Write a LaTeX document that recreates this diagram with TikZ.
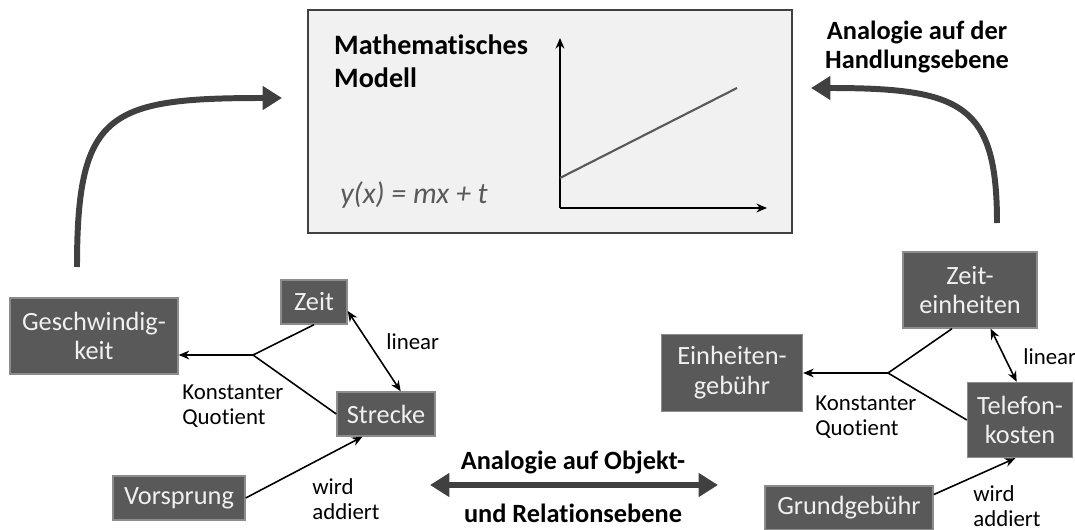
\documentclass[tikz,border=0pt]{standalone}
\usepackage{fontspec}
\setmainfont{Carlito}[Ligatures=NoCommon]
\usepackage{tikz}
\usetikzlibrary{arrows.meta, calc}
\definecolor{boxgray}{HTML}{595959}
\definecolor{boxedge}{HTML}{8C8C8C}
\definecolor{arrowgray}{HTML}{404040}
\definecolor{panelgray}{HTML}{F1F1F1}
\definecolor{formulagray}{HTML}{595959}

\begin{document}
\begin{tikzpicture}[x=0.02cm, y=-0.02cm,
    concept/.style={rectangle, draw=boxedge, line width=0.8pt, fill=boxgray,
                    text=white!94!black, align=center, inner sep=0pt,
                    font=\fontsize{15}{17}\selectfont, minimum height=0.88cm},
    rel/.style={font=\fontsize{13}{14.5}\selectfont, align=left, anchor=west, inner sep=0pt},
    link/.style={line width=0.9pt, -{Stealth[length=6pt, width=5pt]}},
    biglink/.style={line width=3.4pt, color=arrowgray, -{Triangle[length=11pt, width=13pt]}},
    level/.style={font=\fontsize{15}{16.5}\selectfont\bfseries, align=center}
]
    \useasboundingbox (0,0) rectangle (1075,530);

    % Model panel
    \node[draw=arrowgray, fill=panelgray, line width=1.2pt, inner sep=0pt,
          minimum width=9.68cm, minimum height=4.46cm] (modell) at (550,121.5) {};
    \node[anchor=west, align=left, font=\fontsize{16}{18.5}\selectfont\bfseries] (titel) at (328,61) {Mathematisches\\Modell};
    \node[anchor=west, inner sep=0pt, text=formulagray, font=\fontsize{17}{19}\selectfont\itshape] (formel) at (340,195) {y(x) = mx + t};
    \coordinate (origin) at (560,208);
    \draw[line width=1pt, -{Stealth[length=6pt, width=5pt]}] (origin) -- (560,38);
    \draw[line width=1pt, -{Stealth[length=6pt, width=5pt]}] (origin) -- (767,208);
    \draw[line width=1.2pt, formulagray] (560,178) -- (737,88);

    % Movement situation
    \node[concept, minimum width=3.36cm, minimum height=1.52cm] (gesch) at (94,336) {Geschwindig-\\keit};
    \node[concept, minimum width=1.32cm] (zeit) at (314,302) {Zeit};
    \node[concept, minimum width=1.96cm] (strecke) at (386,414) {Strecke};
    \node[concept, minimum width=2.64cm] (vorsprung) at (179,498) {Vorsprung};

    \coordinate (jl) at (253,355);
    \draw[line width=0.9pt] (zeit.south) -- (jl) -- (strecke.west);
    \draw[link] (jl) -- (jl -| gesch.east);
    \draw[link, {Stealth[length=6pt, width=5pt]}-{Stealth[length=6pt, width=5pt]}] (zeit.-15) -- (strecke.57);
    \draw[link] (vorsprung.east) -- (strecke.-136);

    \node[rel] (quotl) at (182,406) {Konstanter\\Quotient};
    \node[rel] (linl) at (386,342) {linear};
    \node[rel] (addl) at (312,499) {wird\\addiert};

    % Phone tariff situation
    \node[concept, minimum width=2.68cm, minimum height=1.52cm] (zeiteinh) at (970,290) {Zeit-\\einheiten};
    \node[concept, minimum width=2.82cm, minimum height=1.54cm] (einhgeb) at (732,373) {Einheiten-\\gebühr};
    \node[concept, minimum width=2.1cm, minimum height=1.5cm] (telefon) at (1020,420) {Telefon-\\kosten};
    \node[concept, minimum width=3.36cm] (grund) at (849,508) {Grundgebühr};

    \coordinate (jr) at (888,373);
    \draw[line width=0.9pt] (zeiteinh.-115) -- (jr) -- (telefon.west);
    \draw[link] (jr) -- (einhgeb.east);
    \draw[link, {Stealth[length=6pt, width=5pt]}-{Stealth[length=6pt, width=5pt]}] (zeiteinh.-62) -- (telefon.95);
    \draw[link] (grund.9) -- (telefon.-97);

    \node[rel] (quotr) at (815,417) {Konstanter\\Quotient};
    \node[rel] (linr) at (1023,357) {linear};
    \node[rel] (addr) at (973,506) {wird\\addiert};

    % Analogy arrows
    \coordinate (lstart) at (77,267);
    \coordinate (lend) at (282,98);
    \draw[biglink] (lstart) .. controls (77,112) and (108,98) .. (lend);

    \coordinate (rstart) at (997,223);
    \coordinate (rend) at (811,88);
    \draw[biglink] (rstart) .. controls (997,104) and (962,88) .. (rend);
    \node[level] (handlung) at (917,47) {Analogie auf der\\Handlungsebene};

    \coordinate (bl) at (430,485);
    \coordinate (br) at (718,485);
    \draw[biglink, {Triangle[length=11pt, width=13pt]}-{Triangle[length=11pt, width=13pt]}] (bl) -- (br);
    \node[level] (objekt) at (573,462) {Analogie auf Objekt-};
    \node[level] (relation) at (573,513) {und Relationsebene};

\end{tikzpicture}
\end{document}
